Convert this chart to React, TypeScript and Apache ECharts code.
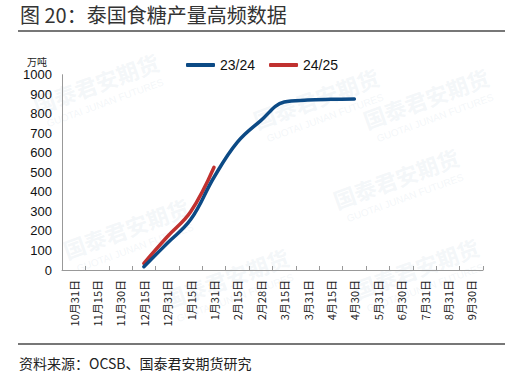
import React, { useEffect, useRef } from "react";
import * as echarts from "echarts";

const categories = [
  "10月31日", "11月15日", "11月30日", "12月15日", "12月31日", "1月15日",
  "1月31日", "2月15日", "2月28日", "3月15日", "3月31日", "4月15日",
  "4月30日", "5月31日", "6月30日", "7月31日", "8月31日", "9月30日",
];
const s2324 = [null, null, null, 17, 137, 258, 475, 655, 765, 860, 870, 874, 876, null, null, null, null, null];
const s2425 = [null, null, null, 34, 170, 298, 526, null, null, null, null, null, null, null, null, null, null, null];
const seriesNames = ["23/24", "24/25"];
const yTicks = [0, 100, 200, 300, 400, 500, 600, 700, 800, 900, 1000];

const CJK = '"Noto Sans CJK SC", "Liberation Sans", sans-serif';
const NUM = '"Liberation Sans", Arial, sans-serif';

const wmColor = "rgba(190,205,222,0.18)";
const marks = [
  [30, 95], [60, 240], [160, 290], [250, 110], [330, 190], [360, 110], [350, 280],
];

export default function App() {
  const ref = useRef<HTMLDivElement>(null);
  useEffect(() => {
    document.body.style.margin = "0";
    const chart = echarts.init(ref.current!, undefined, { renderer: "svg" });
    const wm: any[] = [];
    marks.forEach(([x, y]) => {
      wm.push({
        type: "group",
        x,
        y,
        rotation: (20 * Math.PI) / 180,
        silent: true,
        z: 0,
        children: [
          { type: "text", x: 0, y: 0, style: { text: "国泰君安期货", fill: wmColor, font: 'bold 22px "Noto Sans CJK SC"' } },
          { type: "text", x: 6, y: 28, style: { text: "GUOTAI JUNAN FUTURES", fill: wmColor, font: '10px "Liberation Sans"' } },
        ],
      });
    });
    chart.setOption({
      animation: false,
      backgroundColor: "#ffffff",
      grid: { left: 62, right: 22, top: 74.7, bottom: 114, containLabel: false },
      legend: {
        top: 53,
        left: 181,
        icon: "roundRect",
        itemWidth: 29,
        itemHeight: 4,
        itemGap: 14,
        textStyle: { fontFamily: NUM, fontSize: 14, color: "#111" },
        data: seriesNames,
      },
      graphic: [
        ...wm,
        {
          type: "text",
          left: 20,
          top: 4,
          style: { text: "图 20：泰国食糖产量高频数据", fill: "#333", font: '20px "Noto Sans CJK SC"' },
        },
        { type: "line", shape: { x1: 18, y1: 31, x2: 505, y2: 31 }, style: { stroke: "#777", lineWidth: 2 } },
        { type: "line", shape: { x1: 18, y1: 344, x2: 505, y2: 344 }, style: { stroke: "#777", lineWidth: 2 } },
        {
          type: "text",
          left: 19,
          top: 356,
          style: { text: "资料来源：OCSB、国泰君安期货研究", fill: "#222", font: '14px "Noto Sans CJK SC"' },
        },
        {
          type: "text",
          left: 27,
          top: 56,
          style: { text: "万吨", fill: "#222", font: '10px "Noto Sans CJK SC"' },
        },
      ],
      xAxis: {
        type: "category",
        data: categories,
        boundaryGap: true,
        axisLine: { lineStyle: { color: "#999", width: 1 } },
        axisTick: { show: true, alignWithLabel: false, length: 4, inside: true, lineStyle: { color: "#999" } },
        axisLabel: {
          rotate: 90,
          interval: 0,
          fontSize: 11,
          fontFamily: CJK,
          color: "#222",
          margin: 10,
        },
      },
      yAxis: {
        type: "value",
        min: 0,
        max: 1000,
        interval: 100,
        axisLine: { show: true, lineStyle: { color: "#999" } },
        axisTick: { show: false },
        splitLine: { show: false },
        axisLabel: {
          fontSize: 13,
          fontFamily: NUM,
          color: "#111",
          margin: 10,
          formatter: (v: number) => (yTicks.includes(v) ? String(v) : ""),
        },
      },
      series: [
        {
          name: seriesNames[0],
          type: "line",
          data: s2324,
          smooth: 0.4,
          symbol: "none",
          lineStyle: { color: "#0c4a85", width: 3.5, cap: "round" },
          itemStyle: { color: "#0c4a85" },
          z: 3,
        },
        {
          name: seriesNames[1],
          type: "line",
          data: s2425,
          smooth: 0.4,
          symbol: "none",
          lineStyle: { color: "#c0312f", width: 3.5, cap: "round" },
          itemStyle: { color: "#c0312f" },
          z: 2,
        },
      ],
    });
    return () => chart.dispose();
  }, []);
  return <div ref={ref} style={{ width: 505, height: 384 }} />;
}
